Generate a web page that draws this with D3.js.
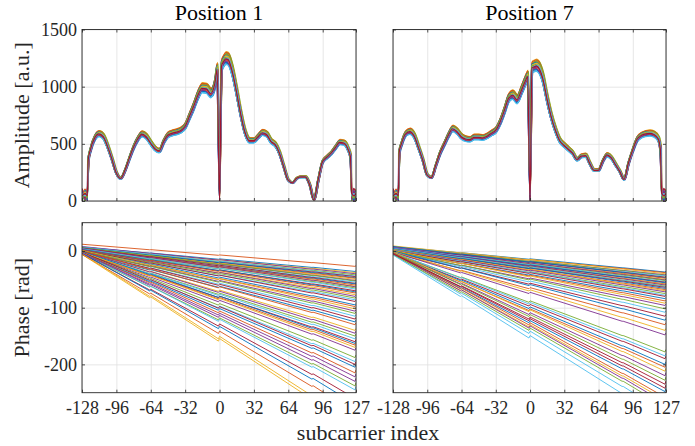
<!DOCTYPE html>
<html>
<head>
<meta charset="utf-8">
<script src="https://cdn.jsdelivr.net/npm/d3@7"></script>
<style>
body { margin: 0; background: #fff; }
svg { display: block; }
text { font-family: 'Liberation Serif', 'Tinos', 'FreeSerif' !important; }
</style>
</head>
<body>
<script>
(function(){

// matlab default colour order
var colors = ["#0072BD", "#D95319", "#EDB120", "#7E2F8E", "#77AC30", "#4DBEEE", "#A2142F"];

var titles = ["Position 1", "Position 7"];
var xTicks = [-128, -96, -64, -32, 0, 32, 64, 96, 127];
var ampTicks = [0, 500, 1000, 1500];
var phaseTicks = [-200, -100, 0];

// amplitude profile (null = guard / DC subcarrier)
var subcarriers = [-128, -125, -123, -122, -120, -116, -112, -108, -104, -100, -96, -92, -88, -84, -80, -76, -72, -68, -64, -60, -56, -52, -48, -44, -40, -36, -32, -28, -24, -20, -16, -12, -8, -4, -2, 0, 2, 4, 6, 8, 12, 16, 20, 24, 28, 32, 36, 40, 44, 48, 52, 56, 60, 64, 68, 72, 76, 80, 84, 88, 92, 96, 100, 104, 108, 112, 116, 120, 122, 123, 125, 127];
var amp1 = [null, null, null, 360, 450, 555, 590, 565, 480, 370, 250, 198, 265, 370, 470, 545, 588, 565, 510, 460, 440, 520, 578, 595, 605, 620, 655, 740, 830, 930, 990, 985, 945, 1040, 1160, null, 1185, 1225, 1250, 1245, 1140, 960, 760, 600, 530, 530, 565, 600, 585, 525, 495, 420, 300, 185, 160, 200, 212, 212, 145, 10, 185, 345, 385, 420, 470, 515, 510, 450, 390, null, null, null];
var amp7 = [null, null, null, 430, 500, 590, 610, 570, 470, 360, 230, 205, 310, 420, 500, 580, 635, 610, 565, 545, 540, 560, 560, 555, 570, 595, 620, 690, 790, 900, 930, 890, 970, 1060, 1095, null, 1170, 1180, 1188, 1175, 1080, 900, 740, 620, 530, 490, 455, 420, 365, 395, 400, 330, 270, 270, 350, 405, 380, 320, 260, 190, 330, 445, 540, 575, 590, 595, 585, 545, 450, null, null, null];

// per packet spread of the amplitude bundle
var gains = [0.965, 1.03, 1.045, 0.975, 1.035, 0.96, 1.0, 0.97, 1.04, 1.01, 0.98, 1.025, 0.955, 0.995, 1.02, 0.985, 1.015, 0.99, 1.005, 1.0, 0.995];
var kShift = [0.6, -0.4, 0.2, -0.7, 0.8, -0.2, 0.4, -0.6, 0.0, 0.7, -0.8, 0.3, -0.3, 0.5, -0.5, 0.1, -0.1, 0.6, -0.6, 0.3, -0.2];
var edgeA = [60, 20, 100, 5, 80, 35, 110, 15, 50, 90, 0, 70, 30, 85, 10, 55, 40, 95, 25, 65, 45];
var edgeB = [15, 85, 30, 70, 0, 95, 40, 60, 105, 20, 75, 5, 50, 25, 90, 35, 80, 10, 55, 45, 65];
var dcLevel = [250, 0, 120, 10, 60, 240, 30, 5, 180, 0, 90, 20, 150, 40, 0, 200, 70, 15, 110, 50, 0];

// phase: shared knots (jumps at -64, DC, ~86 and the last subcarrier)
var phaseKnots = [-128, -65, -64, -1, 0, 86, 87, 126, 127];
var phaseFrac1 = [0, 0.25, 0.245, 0.5, 0.485, 0.835, 0.83, 1.0, 0.975];
var phaseFrac7 = [0, 0.25, 0.245, 0.5, 0.485, 0.835, 0.835, 1.0, 0.975];

// phase start (k=-128) and end (k=127) of each packet
var phaseStart1 = [7, 12, 6, 8, 5, 7, 4, 6, 3, 5, 4, 6, 3, 5, 2, 4, 3, 5, 2, 4, 1, 3, 2, 0, 2, 1, -1, 1, 0, -2, 1, -1, 0, -2, -1, -3, 0, -2, -1, -3, -2, -4, -1, -3, -2, -4, -3, -5, -2, -4, -3, -6, -4, -5, -3, -5, -4, -6, -5, -4];
var phaseEnd1 = [-36, -27, -38, -40, -42, -44, -45, -47, -48, -50, -52, -53, -55, -57, -58, -60, -62, -63, -65, -67, -70, -72, -74, -77, -80, -83, -86, -89, -95, -98, -102, -106, -110, -115, -120, -125, -130, -140, -145, -150, -155, -160, -163, -166, -170, -175, -188, -195, -200, -205, -215, -312, -230, -238, -245, -260, -270, -285, -305, -222];
var phaseStart7 = [8, 6, 9, 5, 7, 4, 6, 8, 3, 5, 7, 4, 6, 3, 5, 2, 4, 6, 3, 5, 2, 4, 1, 3, 2, 0, 2, 1, -1, 0, 1, -2, 0, -1, -2, 0, -3, -1, -2, -3, -2, -4, -3, -5, -2, -4, -3, -6, -4, -5, -3, -5, -4, -6, -7, -5];
var phaseEnd7 = [-37, -38, -40, -42, -43, -44, -46, -47, -48, -50, -51, -52, -54, -55, -56, -58, -59, -60, -62, -63, -64, -66, -68, -70, -72, -75, -78, -80, -84, -88, -92, -96, -102, -108, -115, -122, -130, -140, -148, -178, -185, -190, -200, -205, -212, -220, -228, -285, -242, -248, -258, -263, -268, -274, -300, -235];

// figure layout
var width = 695, height = 446;
var cols = [{x0: 82, x1: 356}, {x0: 393, x1: 666}];
var rows = [{y0: 29.5, y1: 201}, {y0: 222.7, y1: 392.7}];
var axisColor = "#262626";

var svg = d3.select("body").append("svg")
    .attr("width", width)
    .attr("height", height)
    .attr("font-family", "Liberation Serif");

var defs = svg.append("defs");

// build one axes frame, returns scales and the plotting layer
function makeAxes(id, c, r, yDomain, yTicks, yLabels, xLabels){
    var x = d3.scaleLinear().domain([-128, 127]).range([c.x0, c.x1]);
    var y = d3.scaleLinear().domain(yDomain).range([r.y1, r.y0]);
    var w = c.x1 - c.x0, h = r.y1 - r.y0;

    defs.append("clipPath").attr("id", id)
        .append("rect").attr("x", c.x0).attr("y", r.y0).attr("width", w).attr("height", h);

    // grid
    var grid = svg.append("g").attr("class", "grid");
    grid.append("g").attr("transform", "translate(0," + r.y1 + ")")
        .call(d3.axisBottom(x).tickValues(xTicks).tickSize(-h).tickFormat(""));
    grid.append("g").attr("transform", "translate(" + c.x0 + ",0)")
        .call(d3.axisLeft(y).tickValues(yTicks).tickSize(-w).tickFormat(""));
    grid.selectAll(".domain").remove();
    grid.selectAll("line").attr("stroke", "#dfdfdf").attr("stroke-width", 0.8);

    var plot = svg.append("g").attr("clip-path", "url(#" + id + ")");

    // ticks, labels, box
    var ax = svg.append("g").attr("class", "axes");
    var fmt = function(d){ return String(d); };
    ax.append("g").attr("transform", "translate(0," + r.y1 + ")")
        .call(d3.axisBottom(x).tickValues(xTicks).tickSize(-3).tickPadding(9)
            .tickFormat(xLabels ? fmt : ""));
    ax.append("g").attr("transform", "translate(0," + r.y0 + ")")
        .call(d3.axisTop(x).tickValues(xTicks).tickSize(-3).tickFormat(""));
    ax.append("g").attr("transform", "translate(" + c.x0 + ",0)")
        .call(d3.axisLeft(y).tickValues(yTicks).tickSize(-3).tickPadding(5)
            .tickFormat(yLabels ? fmt : ""));
    ax.append("g").attr("transform", "translate(" + c.x1 + ",0)")
        .call(d3.axisRight(y).tickValues(yTicks).tickSize(-3).tickFormat(""));
    ax.selectAll(".domain").remove();
    ax.selectAll("g").attr("font-family", "Liberation Serif").attr("font-size", 18);
    ax.selectAll("line").attr("stroke", axisColor).attr("stroke-width", 0.8);
    ax.selectAll("text").attr("fill", axisColor);
    ax.append("rect")
        .attr("x", c.x0).attr("y", r.y0).attr("width", w).attr("height", h)
        .attr("fill", "none").attr("stroke", axisColor).attr("stroke-width", 0.9);

    return {x: x, y: y, plot: plot};
}

// amplitude panels
[amp1, amp7].forEach(function(base, p){
    var a = makeAxes("amp" + p, cols[p], rows[0], [0, 1500], ampTicks, p === 0, false);
    var line = d3.line()
        .x(function(d){ return a.x(d[0]); })
        .y(function(d){ return a.y(d[1]); })
        .curve(d3.curveMonotoneX);

    gains.forEach(function(g, i){
        var pts = subcarriers.map(function(k, j){
            var v = base[j];
            if (v === null){
                if (k === 0) return [k, dcLevel[i]];
                return [k, (j % 2 === 0) ? edgeA[i] : edgeB[i]];
            }
            return [k + kShift[i], v * g];
        });
        a.plot.append("path")
            .attr("d", line(pts))
            .attr("fill", "none")
            .attr("stroke", colors[i % colors.length])
            .attr("stroke-width", 1.2);
    });

    svg.append("text")
        .attr("x", (cols[p].x0 + cols[p].x1) / 2)
        .attr("y", 20)
        .attr("text-anchor", "middle")
        .attr("fill", "#000")
        .attr("font-size", 22)
        .text(titles[p]);
});

// phase panels
[[phaseStart1, phaseEnd1, phaseFrac1], [phaseStart7, phaseEnd7, phaseFrac7]].forEach(function(set, p){
    var a = makeAxes("ph" + p, cols[p], rows[1], [-250, 50], phaseTicks, p === 0, true);
    var line = d3.line()
        .x(function(d){ return a.x(d[0]); })
        .y(function(d){ return a.y(d[1]); });
    var starts = set[0], ends = set[1], frac = set[2];

    ends.forEach(function(e, i){
        var s = starts[i];
        var pts = phaseKnots.map(function(k, j){
            return [k, s + (e - s) * frac[j]];
        });
        a.plot.append("path")
            .attr("d", line(pts))
            .attr("fill", "none")
            .attr("stroke", colors[i % colors.length])
            .attr("stroke-width", 0.9);
    });
});

// axis labels
function label(txt, transform){
    svg.append("text")
        .attr("transform", transform)
        .attr("text-anchor", "middle")
        .attr("fill", axisColor)
        .attr("font-size", 22)
        .text(txt);
}
label("Amplitude [a.u.]", "translate(29," + (rows[0].y0 + rows[0].y1) / 2 + ") rotate(-90)");
label("Phase [rad]", "translate(29," + (rows[1].y0 + rows[1].y1) / 2 + ") rotate(-90)");
label("subcarrier index", "translate(368,440)");

})();
</script>
</body>
</html>
